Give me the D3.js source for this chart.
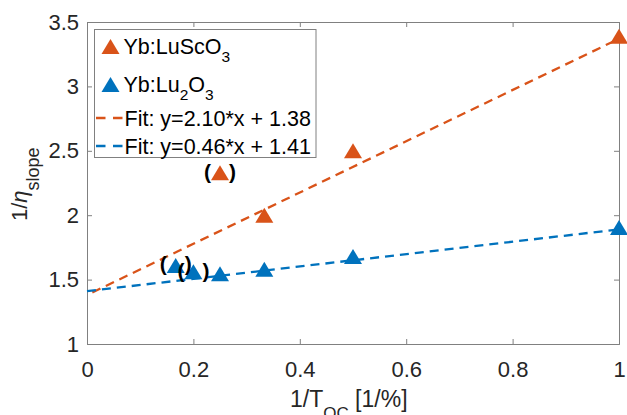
<!DOCTYPE html>
<html><head><meta charset="utf-8">
<script src="https://cdn.jsdelivr.net/npm/d3@7"></script>
<style>body{margin:0;background:#fff}svg{display:block}text{font-family:"Liberation Sans",Arial,sans-serif}</style>
</head><body><svg id="c" width="627" height="415"></svg>
<script>
// Data
const luscoX = [0.25, 0.3333, 0.5, 1.0];
const luscoY = [2.33, 2.00, 2.50, 3.39];
const luscoBracketed = [true, false, false, false];
const lu2o3X = [0.1667, 0.2, 0.25, 0.3333, 0.5, 1.0];
const lu2o3Y = [1.61, 1.56, 1.545, 1.58, 1.68, 1.905];
const lu2o3Bracketed = [true, true, false, false, false, false];
// fitted lines as drawn (endpoints)
const fitLuscoX = [0.01, 1.0];
const fitLuscoY = [1.40, 3.37];
const fitLu2o3X = [0.0, 1.0];
const fitLu2o3Y = [1.41, 1.89];
const xTicks = [0, 0.2, 0.4, 0.6, 0.8, 1];
const xTickLabels = ["0", "0.2", "0.4", "0.6", "0.8", "1"];
const yTicks = [1, 1.5, 2, 2.5, 3, 3.5];
const yTickLabels = ["1", "1.5", "2", "2.5", "3", "3.5"];
const legendLabels = ["Yb:LuScO", "Yb:Lu", "Fit: y=2.10*x + 1.38", "Fit: y=0.46*x + 1.41"];

const ORANGE = "#D95319", BLUE = "#0072BD", AX = "#808080", TXT = "#262626";
const svg = d3.select("#c");
const L = 87, R = 619, T = 22, B = 344;
const x = d3.scaleLinear().domain([0, 1]).range([L, R]);
const y = d3.scaleLinear().domain([1, 3.5]).range([B, T]);

// axes (box with inward ticks)
const gx = svg.append("g").attr("transform", `translate(0,${B})`)
  .call(d3.axisBottom(x).tickValues(xTicks).tickFormat((d, i) => xTickLabels[i]).tickSize(-5).tickPadding(17));
const gxt = svg.append("g").attr("transform", `translate(0,${T})`)
  .call(d3.axisTop(x).tickValues(xTicks).tickFormat("").tickSize(-5));
const gy = svg.append("g").attr("transform", `translate(${L},0)`)
  .call(d3.axisLeft(y).tickValues(yTicks).tickFormat((d, i) => yTickLabels[i]).tickSize(-5).tickPadding(8));
const gyr = svg.append("g").attr("transform", `translate(${R},0)`)
  .call(d3.axisRight(y).tickValues(yTicks).tickFormat("").tickSize(-5));
[gx, gxt, gy, gyr].forEach(g => {
  g.select(".domain").attr("stroke", AX).attr("stroke-width", 1);
  g.selectAll(".tick line").attr("stroke", AX).attr("stroke-width", 1);
  g.selectAll(".tick text").attr("fill", TXT).attr("font-size", 22).attr("font-family", '"Liberation Sans",Arial,sans-serif');
});
gx.selectAll(".tick text").attr("dy", "0.72em");

// fit lines
const lineGen = d3.line().x(d => x(d[0])).y(d => y(d[1]));
[[fitLuscoX, fitLuscoY, ORANGE], [fitLu2o3X, fitLu2o3Y, BLUE]].forEach(([fx, fy, col]) => {
  svg.append("path").attr("d", lineGen(fx.map((v, i) => [v, fy[i]]))).attr("fill", "none")
    .attr("stroke", col).attr("stroke-width", 2.3).attr("stroke-dasharray", "9,6");
});

// triangle marker (MATLAB '^'), bbox centred on the point
const triType = { draw(ctx, size) { const w = 9, h = 7.5; ctx.moveTo(0, -h); ctx.lineTo(w, h); ctx.lineTo(-w, h); ctx.closePath(); } };
const tri = d3.symbol().type(triType).size(1);

function drawSeries(xs, ys, br, col) {
  const data = xs.map((v, i) => ({x: v, y: ys[i], b: br[i]}));
  svg.append("g").selectAll("path").data(data).join("path")
    .attr("d", tri).attr("fill", col)
    .attr("transform", d => `translate(${x(d.x)},${y(d.y)})`);
  const bg = svg.append("g").attr("font-size", 21).attr("font-weight", "bold").attr("fill", "#000")
    .attr("text-anchor", "middle");
  data.filter(d => d.b).forEach(d => {
    bg.append("text").attr("x", x(d.x) - 12.5).attr("y", y(d.y) + 6).text("(");
    bg.append("text").attr("x", x(d.x) + 12.5).attr("y", y(d.y) + 6).text(")");
  });
}
drawSeries(luscoX, luscoY, luscoBracketed, ORANGE);
drawSeries(lu2o3X, lu2o3Y, lu2o3Bracketed, BLUE);

// legend
const lg = svg.append("g");
lg.append("rect").attr("x", 94.5).attr("y", 29.5).attr("width", 221.5).attr("height", 128)
  .attr("fill", "#fff").attr("stroke", AX).attr("stroke-width", 1);
const rowsY = [46.5, 84.5, 118, 146];
[ORANGE, BLUE].forEach((col, i) => {
  lg.append("path").attr("d", tri).attr("fill", col).attr("transform", `translate(110.5,${rowsY[i]})`);
});
[ORANGE, BLUE].forEach((col, i) => {
  lg.append("line").attr("x1", 96).attr("x2", 123).attr("y1", rowsY[i + 2]).attr("y2", rowsY[i + 2])
    .attr("stroke", col).attr("stroke-width", 2.3).attr("stroke-dasharray", "9.5,7.5");
});
const lt = lg.append("g").attr("font-size", 21.5).attr("fill", "#000");
const t0 = lt.append("text").attr("x", 123.5).attr("y", rowsY[0] + 7.5);
t0.append("tspan").text(legendLabels[0]);
t0.append("tspan").attr("font-size", 15.5).attr("dy", 8).text("3");
const t1 = lt.append("text").attr("x", 123.5).attr("y", rowsY[1] + 7.5);
t1.append("tspan").text(legendLabels[1]);
t1.append("tspan").attr("font-size", 15.5).attr("dy", 8).text("2");
t1.append("tspan").attr("dy", -8).text("O");
t1.append("tspan").attr("font-size", 15.5).attr("dy", 8).text("3");
lt.append("text").attr("x", 124.5).attr("y", rowsY[2] + 7.5).text(legendLabels[2]);
lt.append("text").attr("x", 124.5).attr("y", rowsY[3] + 7.5).text(legendLabels[3]);

// axis labels
const xl = svg.append("text").attr("x", 290).attr("y", 407).attr("text-anchor", "start")
  .attr("font-size", 23).attr("fill", TXT);
xl.append("tspan").text("1/T");
xl.append("tspan").attr("font-size", 17).attr("dy", 12).text("OC");
xl.append("tspan").attr("dy", -12).text(" [1/%]");

const yl = svg.append("text").attr("transform", "translate(27,221) rotate(-90)")
  .attr("text-anchor", "start").attr("font-size", 22).attr("fill", TXT);
yl.append("tspan").text("1/");
yl.append("tspan").attr("font-style", "italic").text("η");
yl.append("tspan").attr("font-size", 18).attr("dy", 12).text("slope");
</script></body></html>
